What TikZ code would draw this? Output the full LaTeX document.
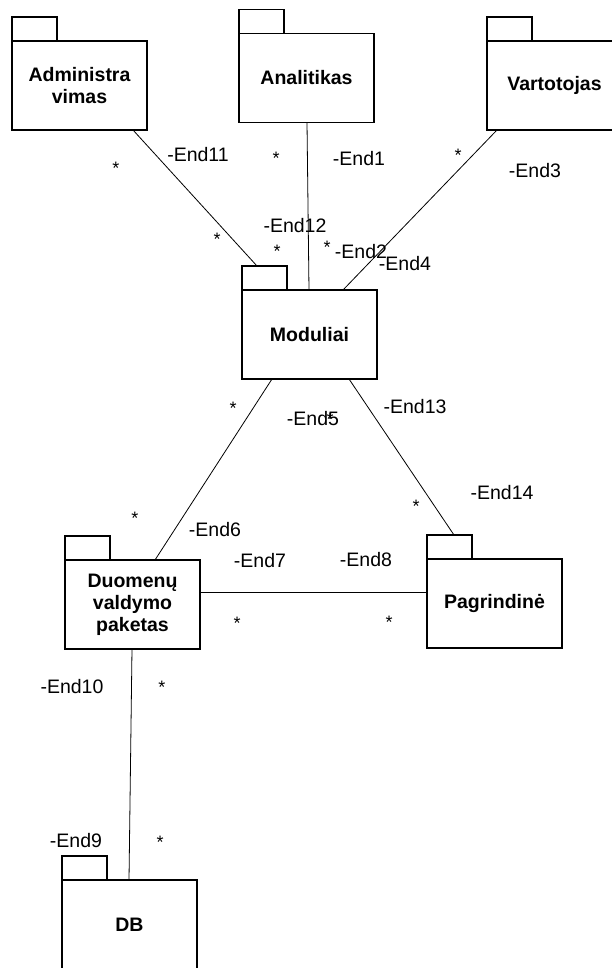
\documentclass[tikz,border=0pt]{standalone}
\usepackage{fontspec}
\setmainfont{Liberation Sans}
\begin{document}
\begin{tikzpicture}[x=1pt,y=-1pt,
 pkg/.style={draw, line width=1.3pt, minimum width=135pt, minimum height=89pt, inner sep=0pt, outer sep=0pt, align=center, font=\fontsize{19.5}{22}\selectfont\bfseries},
 tabbox/.style={draw, line width=1.3pt},
 conn/.style={line width=0.8pt},
 lbl/.style={inner sep=0pt, font=\fontsize{19.5}{22}\selectfont},
 mult/.style={inner sep=0pt, anchor=base, yshift=-10pt, font=\fontsize{18}{20}\selectfont}]
\clip (0,0) rectangle (612,968);
\fill[white] (0,0) rectangle (612,968);
% packages
\node[pkg] (admin) at (79.5,85.5) {Administra\\vimas};
\node[pkg] (anal) at (306.5,78) {Analitikas};
\node[pkg] (vart) at (554.5,85.5) {Vartotojas};
\node[pkg] (mod) at (309.5,334.5) {Moduliai};
\node[pkg] (duom) at (132.5,604.5) {Duomenų\\valdymo\\paketas};
\node[pkg] (pagr) at (494.5,603.5) {Pagrindinė};
\node[pkg] (db) at (129.5,924.5) {DB};
\foreach \n in {admin,anal,vart,mod,duom,pagr,db}
  \draw[tabbox] (\n.north west) rectangle ([xshift=45pt,yshift=24pt]\n.north west);
% connectors
\draw[conn] ([xshift=121pt]admin.south west) -- ([xshift=15pt,yshift=24pt]mod.north west);
\draw[conn] ([xshift=68pt]anal.south west) -- ([xshift=67pt]mod.north west);
\draw[conn] ([xshift=10pt]vart.south west) -- ([xshift=101pt]mod.north west);
\draw[conn] ([xshift=30pt]mod.south west) -- ([xshift=90pt]duom.north west);
\draw[conn] ([xshift=107pt]mod.south west) -- ([xshift=27pt,yshift=24pt]pagr.north west);
\draw[conn] ([yshift=12.5pt]duom.east) -- ([yshift=11.5pt]pagr.west);
\draw[conn] ([xshift=67pt]duom.south west) -- ([xshift=67pt]db.north west);
% role labels
\node[lbl] (e11) at (198,155) {-End11};
\node[lbl] (e1) at (359,159) {-End1};
\node[lbl] (e12) at (295,226) {-End12};
\node[lbl] (e2) at (361,252) {-End2};
\node[lbl] (e4) at (405,264) {-End4};
\node[lbl] (e3) at (535,171) {-End3};
\node[lbl] (e5) at (313,419) {-End5};
\node[lbl] (e13) at (415,407) {-End13};
\node[lbl] (e14) at (502,493) {-End14};
\node[lbl] (e6) at (215,530) {-End6};
\node[lbl] (e7) at (260,561) {-End7};
\node[lbl] (e8) at (366,560) {-End8};
\node[lbl] (e10) at (72,687) {-End10};
\node[lbl] (e9) at (76,841) {-End9};
% multiplicities
\node[mult] (m1) at (116,165) {*};
\node[mult] (m2) at (217,235) {*};
\node[mult] (m3) at (276,155) {*};
\node[mult] (m4) at (277,248) {*};
\node[mult] (m5) at (327,243) {*};
\node[mult] (m6) at (458,152) {*};
\node[mult] (m7) at (233,404) {*};
\node[mult] (m8) at (330,415) {*};
\node[mult] (m9) at (416,502) {*};
\node[mult] (m10) at (135,514) {*};
\node[mult] (m11) at (237,619) {*};
\node[mult] (m12) at (389,618) {*};
\node[mult] (m13) at (162,683) {*};
\node[mult] (m14) at (160,838) {*};
\end{tikzpicture}
\end{document}
